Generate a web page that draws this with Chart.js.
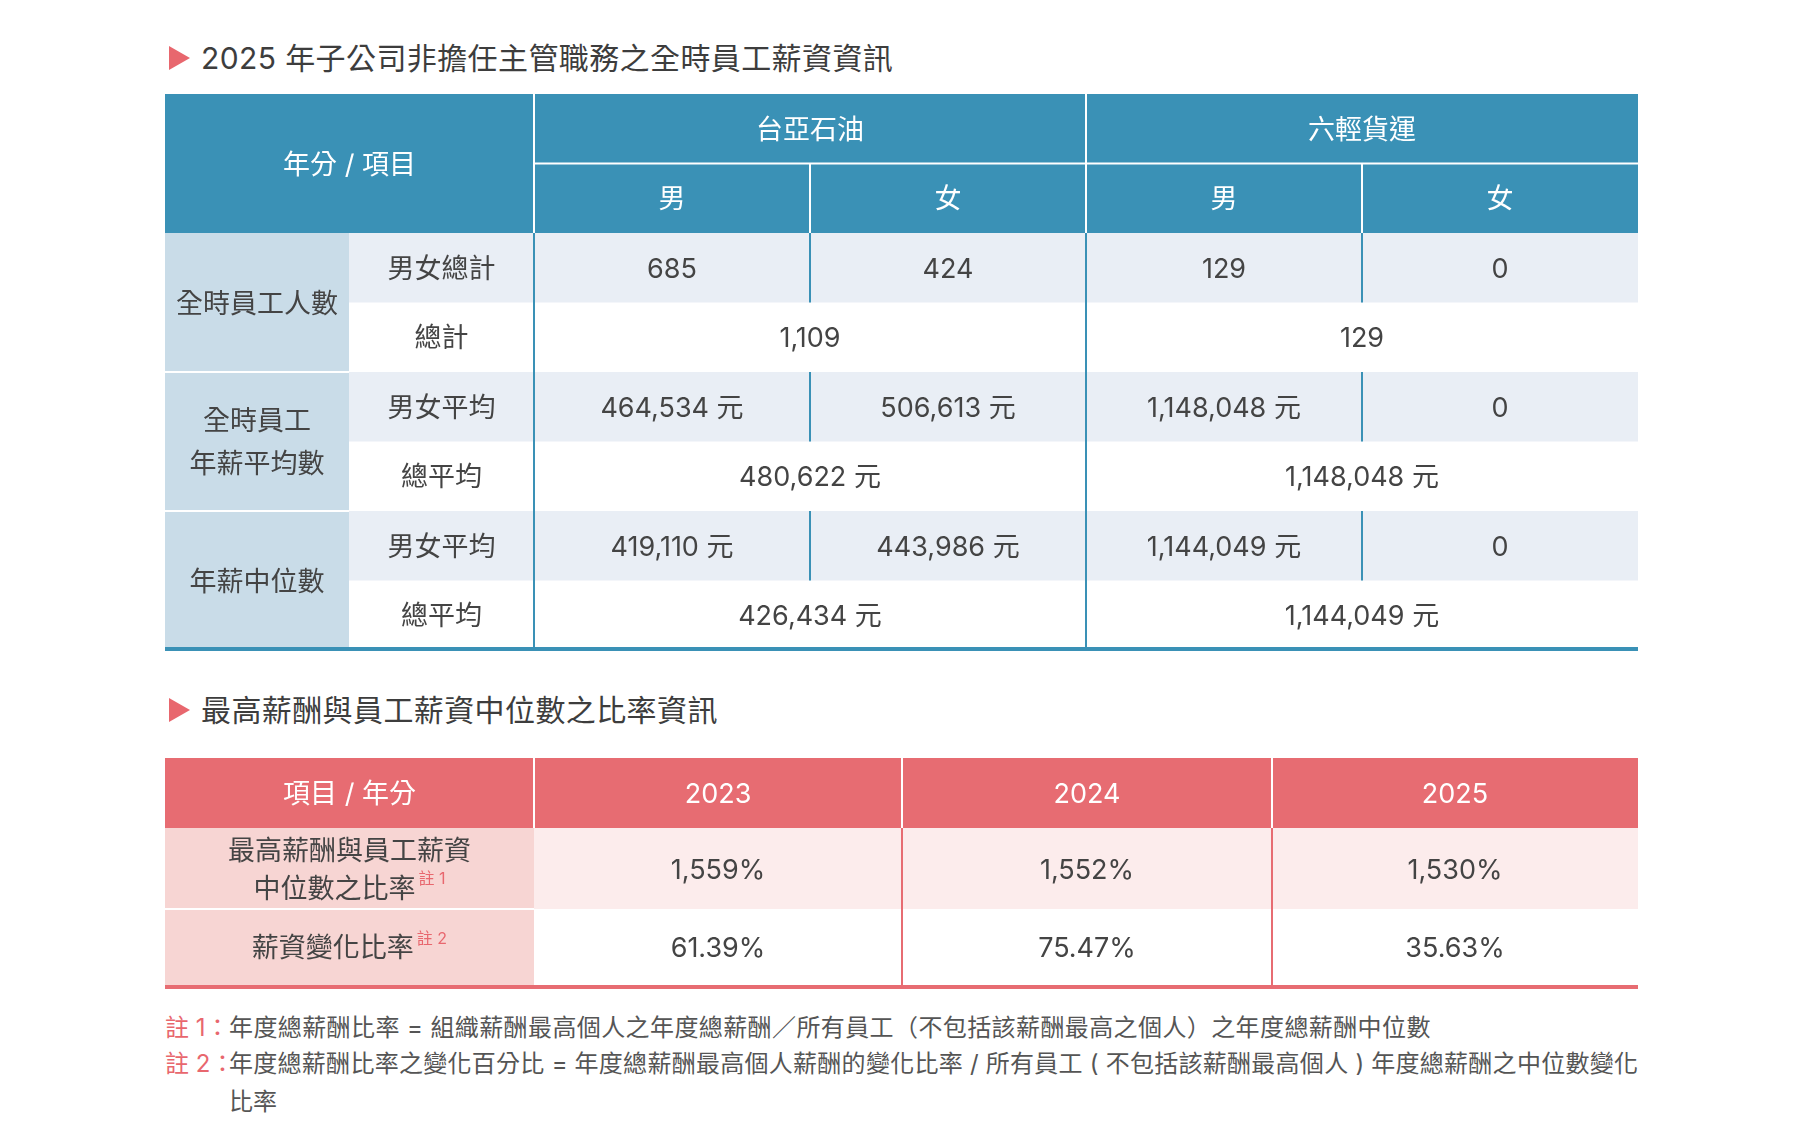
<!DOCTYPE html>
<html lang="zh-Hant">
<head>
  <meta charset="UTF-8" />
  <title>子公司非擔任主管職務之全時員工薪資資訊</title>
  <script src="https://cdn.jsdelivr.net/npm/chart.js"></script>
  <style>
    body { margin: 0; background: #fff; font-family: Inter, "Noto Sans CJK TC", sans-serif; color: #444; }
    .page { position: relative; width: 1809px; height: 1132px; overflow: hidden; }
    .title { position: absolute; left: 201px; font-size: 30px; line-height: 40px; color: #3d3d3d; white-space: nowrap; letter-spacing: 0.4px; }
    .tri { position: absolute; left: 169px; width: 0; height: 0;
           border-top: 12.5px solid transparent; border-bottom: 12.5px solid transparent; border-left: 21px solid #e8676e; }
    .box { position: absolute; }
    .note { position: absolute; left: 165px; font-size: 24px; line-height: 37px; color: #555; white-space: nowrap; }
    .note .tag { color: #e8676e; display: inline-block; width: 64px; }
    .note .txt { position: absolute; left: 64px; top: 0; letter-spacing: 0.4px; }
  </style>
</head>
<body>
  <div class="page">
    <div class="tri" style="top:46px"></div>
    <div class="title" style="top:38px">2025 年子公司非擔任主管職務之全時員工薪資資訊</div>
    <div class="box" style="left:165px; top:94px; width:1473px; height:560px"><canvas id="salaryTable"></canvas></div>

    <div class="tri" style="top:698px"></div>
    <div class="title" style="top:690px">最高薪酬與員工薪資中位數之比率資訊</div>
    <div class="box" style="left:165px; top:758px; width:1473px; height:232px"><canvas id="ratioTable"></canvas></div>

    <div class="note" style="top:1009px"><span class="tag">註 1：</span><span class="txt">年度總薪酬比率 = 組織薪酬最高個人之年度總薪酬／所有員工（不包括該薪酬最高之個人）之年度總薪酬中位數</span></div>
    <div class="note" style="top:1045px; width:1473px"><span class="tag">註 2：</span><span class="txt" style="width:1409px; white-space:normal; text-align:justify; text-align-last:justify; letter-spacing:0">年度總薪酬比率之變化百分比 = 年度總薪酬最高個人薪酬的變化比率 / 所有員工 ( 不包括該薪酬最高個人 ) 年度總薪酬之中位數變化</span></div>
    <div class="note" style="top:1083px; left:229px">比率</div>
  </div>

  <script>
    // ---- table 1 data ----
    const companies = ['台亞石油', '六輕貨運'];
    const genders = ['男', '女'];
    const groupLabels = ['全時員工人數', '全時員工\n年薪平均數', '年薪中位數'];
    const rowLabels = ['男女總計', '總計', '男女平均', '總平均', '男女平均', '總平均'];
    const headcountByGender = [685, 424, 129, 0];
    const headcountTotal = [1109, 129];
    const avgSalaryByGender = [464534, 506613, 1148048, 0];
    const avgSalaryTotal = [480622, 1148048];
    const medianSalaryByGender = [419110, 443986, 1144049, 0];
    const medianSalaryTotal = [426434, 1144049];

    // ---- table 2 data ----
    const ratioYears = ['2023', '2024', '2025'];
    const ratioLabels = ['最高薪酬與員工薪資\n中位數之比率', '薪資變化比率'];
    const ratioNotes = ['註 1', '註 2'];
    const payRatio = [1559, 1552, 1530];
    const payChange = [61.39, 75.47, 35.63];

    const FONT = 'Inter, "Noto Sans CJK TC", sans-serif';
    const TEXT = '#444';
    const mid = (a, b) => (a + b) / 2;
    const fmtCount = v => v.toLocaleString('en-US');
    const fmtYuan = v => v === 0 ? '0' : v.toLocaleString('en-US') + ' 元';

    // draws cell fills / rules in scale units, then the text points
    function tablePlugin(fills, rules, lineH) {
      return {
        id: 'tableCells',
        beforeDatasetsDraw(chart) {
          const { ctx, scales: { x, y } } = chart;
          ctx.save();
          fills.forEach(f => {
            const x0 = x.getPixelForValue(f[0]), x1 = x.getPixelForValue(f[1]);
            const y0 = y.getPixelForValue(f[2]), y1 = y.getPixelForValue(f[3]);
            ctx.fillStyle = f[4];
            ctx.fillRect(x0, y0, x1 - x0, y1 - y0);
          });
          rules.forEach(r => {
            ctx.strokeStyle = r[5];
            ctx.lineWidth = r[4];
            ctx.beginPath();
            ctx.moveTo(x.getPixelForValue(r[0]), y.getPixelForValue(r[1]));
            ctx.lineTo(x.getPixelForValue(r[2]), y.getPixelForValue(r[3]));
            ctx.stroke();
          });
          ctx.restore();
        },
        afterDatasetsDraw(chart) {
          const ctx = chart.ctx;
          ctx.save();
          ctx.textBaseline = 'middle';
          chart.data.datasets.forEach((ds, i) => {
            chart.getDatasetMeta(i).data.forEach((pt, j) => {
              const cell = ds.data[j];
              const lines = cell.t.split('\n');
              ctx.fillStyle = cell.head ? '#fff' : TEXT;
              ctx.font = '27px ' + FONT;
              lines.forEach((ln, k) => {
                // +2: Inter's middle sits a little high
                const ly = pt.y + 2 + (k - (lines.length - 1) / 2) * lineH;
                const last = k === lines.length - 1;
                if (last && cell.note) {
                  ctx.font = '27px ' + FONT;
                  const wMain = ctx.measureText(ln).width;
                  ctx.font = '16px ' + FONT;
                  const wNote = ctx.measureText(cell.note).width;
                  const x0 = pt.x - (wMain + 3 + wNote) / 2;
                  ctx.textAlign = 'left';
                  ctx.font = '27px ' + FONT;
                  ctx.fillStyle = TEXT;
                  ctx.fillText(ln, x0, ly);
                  ctx.font = '16px ' + FONT;
                  ctx.fillStyle = '#e8676e';
                  ctx.fillText(cell.note, x0 + wMain + 3, ly - 10);
                } else {
                  ctx.textAlign = 'center';
                  ctx.fillText(ln, pt.x, ly);
                }
              });
            });
          });
          ctx.restore();
        }
      };
    }

    function makeTable(id, w, h, cells, fills, rules, lineH) {
      new Chart(document.getElementById(id), {
        type: 'scatter',
        data: { datasets: [{ data: cells, pointRadius: 0, pointHoverRadius: 0 }] },
        options: {
          responsive: true,
          maintainAspectRatio: false,
          animation: false,
          events: [],
          layout: { padding: 0 },
          plugins: { legend: { display: false }, tooltip: { enabled: false } },
          scales: {
            x: { type: 'linear', min: 0, max: w, display: false },
            y: { type: 'linear', min: 0, max: h, reverse: true, display: false }
          }
        },
        plugins: [tablePlugin(fills, rules, lineH)]
      });
    }

    // ---- table 1 ----
    const BLUE = '#3a91b6', GROUP = '#c9dce8', STRIPE = '#e9eef5';
    const C1 = [0, 184, 369, 645, 921, 1197, 1473];
    const R1 = 69.5;
    const cells1 = [];
    cells1.push({ x: mid(C1[0], C1[2]), y: R1, t: '年分 / 項目', head: true });
    companies.forEach((c, k) => cells1.push({ x: mid(C1[2 + 2 * k], C1[4 + 2 * k]), y: R1 * 0.5, t: c, head: true }));
    for (let k = 0; k < 4; k++) cells1.push({ x: mid(C1[2 + k], C1[3 + k]), y: R1 * 1.5, t: genders[k % 2], head: true });
    groupLabels.forEach((g, k) => cells1.push({ x: mid(C1[0], C1[1]), y: R1 * (3 + 2 * k), t: g }));
    rowLabels.forEach((r, k) => cells1.push({ x: mid(C1[1], C1[2]), y: R1 * (2.5 + k), t: r }));
    [[headcountByGender, headcountTotal, fmtCount],
     [avgSalaryByGender, avgSalaryTotal, fmtYuan],
     [medianSalaryByGender, medianSalaryTotal, fmtYuan]].forEach(([byG, tot, fmt], g) => {
      byG.forEach((v, k) => cells1.push({ x: mid(C1[2 + k], C1[3 + k]), y: R1 * (2.5 + 2 * g), t: fmt(v) }));
      tot.forEach((v, k) => cells1.push({ x: mid(C1[2 + 2 * k], C1[4 + 2 * k]), y: R1 * (3.5 + 2 * g), t: fmt(v) }));
    });
    const fills1 = [[0, 1473, 0, R1 * 2, BLUE]];
    for (let g = 0; g < 3; g++) {
      fills1.push([C1[1], 1473, R1 * (2 + 2 * g), R1 * (3 + 2 * g), STRIPE]);
      fills1.push([C1[0], C1[1], R1 * (2 + 2 * g), R1 * (4 + 2 * g), GROUP]);
    }
    const rules1 = [
      [C1[2], 0, C1[2], R1 * 2, 2, '#fff'], [C1[4], 0, C1[4], R1 * 2, 2, '#fff'],
      [C1[2], R1, 1473, R1, 2, '#fff'],
      [C1[3], R1, C1[3], R1 * 2, 2, '#fff'], [C1[5], R1, C1[5], R1 * 2, 2, '#fff'],
      [C1[2], R1 * 2, C1[2], R1 * 8, 2, BLUE], [C1[4], R1 * 2, C1[4], R1 * 8, 2, BLUE],
      [0, R1 * 4, C1[1], R1 * 4, 2, '#fff'], [0, R1 * 6, C1[1], R1 * 6, 2, '#fff'],
      [0, R1 * 8 - 1, 1473, R1 * 8 - 1, 4, BLUE]
    ];
    for (let g = 0; g < 3; g++) {
      rules1.push([C1[3], R1 * (2 + 2 * g), C1[3], R1 * (3 + 2 * g), 2, BLUE]);
      rules1.push([C1[5], R1 * (2 + 2 * g), C1[5], R1 * (3 + 2 * g), 2, BLUE]);
    }
    makeTable('salaryTable', 1473, 560, cells1, fills1, rules1, 43);

    // ---- table 2 ----
    const RED = '#e76c72', LABEL = '#f7d5d3', PINK = '#fcecec';
    const C2 = [0, 369, 737, 1107, 1473];
    const R2 = [0, 70, 151, 227];
    const cells2 = [{ x: mid(C2[0], C2[1]), y: mid(R2[0], R2[1]), t: '項目 / 年分', head: true }];
    ratioYears.forEach((yr, k) => cells2.push({ x: mid(C2[1 + k], C2[2 + k]), y: mid(R2[0], R2[1]), t: yr, head: true }));
    ratioLabels.forEach((l, k) => cells2.push({ x: mid(C2[0], C2[1]), y: mid(R2[1 + k], R2[2 + k]), t: l, note: ratioNotes[k] }));
    payRatio.forEach((v, k) => cells2.push({ x: mid(C2[1 + k], C2[2 + k]), y: mid(R2[1], R2[2]), t: v.toLocaleString('en-US') + '%' }));
    payChange.forEach((v, k) => cells2.push({ x: mid(C2[1 + k], C2[2 + k]), y: mid(R2[2], R2[3]), t: v.toFixed(2) + '%' }));
    const fills2 = [
      [0, 1473, R2[0], R2[1], RED],
      [C2[1], 1473, R2[1], R2[2], PINK],
      [C2[0], C2[1], R2[1], R2[3], LABEL]
    ];
    const rules2 = [
      [C2[1], R2[0], C2[1], R2[1], 2, '#fff'], [C2[2], R2[0], C2[2], R2[1], 2, '#fff'], [C2[3], R2[0], C2[3], R2[1], 2, '#fff'],
      [C2[2], R2[1], C2[2], R2[3], 2, RED], [C2[3], R2[1], C2[3], R2[3], 2, RED],
      [C2[0], R2[2], C2[1], R2[2], 2, '#fff'],
      [0, R2[3] + 2, 1473, R2[3] + 2, 4, RED]
    ];
    makeTable('ratioTable', 1473, 232, cells2, fills2, rules2, 38);
  </script>
</body>
</html>
